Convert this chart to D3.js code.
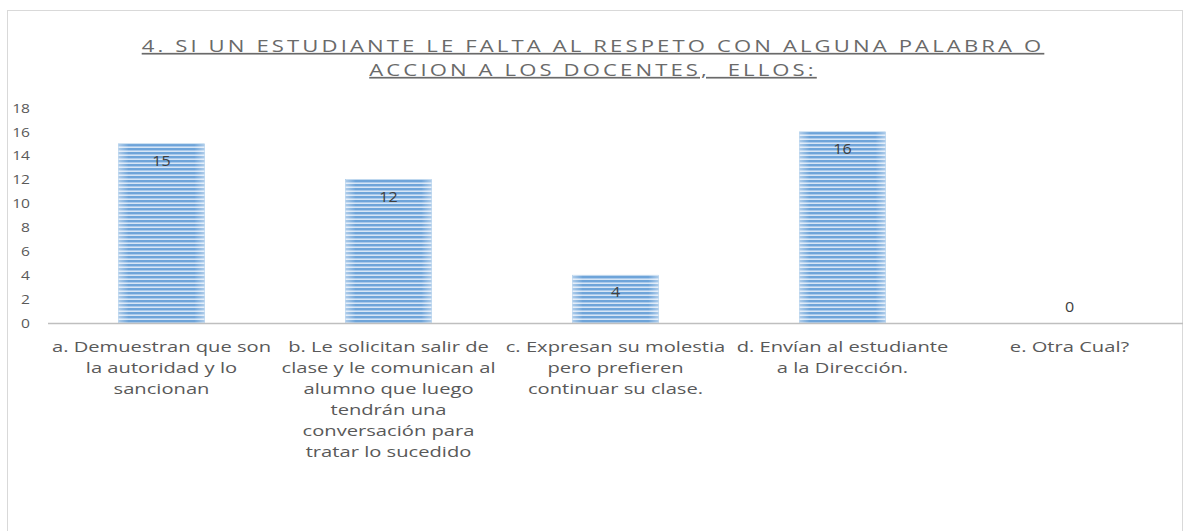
<!DOCTYPE html>
<html>
<head>
<meta charset="utf-8">
<script src="https://cdn.jsdelivr.net/npm/d3@7"></script>
<style>
  body { margin: 0; background: #fff; }
  svg { display: block; font-family: "Open Sans", sans-serif; }
</style>
</head>
<body>
<svg id="chart"></svg>
<script>
// chart data
const categories = [
  "a. Demuestran que son\nla autoridad y lo\nsancionan",
  "b. Le solicitan salir de\nclase y le comunican al\nalumno que luego\ntendrán una\nconversación para\ntratar lo sucedido",
  "c. Expresan su molestia\npero prefieren\ncontinuar su clase.",
  "d. Envían al estudiante\na la Dirección.",
  "e. Otra Cual?"
];
const values = [15, 12, 4, 16, 0];
const yTicks = [0, 2, 4, 6, 8, 10, 12, 14, 16, 18];
const titleLines = [
  "4. SI UN ESTUDIANTE LE FALTA AL RESPETO CON ALGUNA PALABRA O",
  "ACCION A LOS DOCENTES,  ELLOS:"
];

const width = 1184, height = 531;

const svg = d3.select("#chart")
              .attr("width", width)
              .attr("height", height);

// striped fill like the excel bars
const defs = svg.append("defs");
const pat = defs.append("pattern")
  .attr("id", "stripes")
  .attr("patternUnits", "userSpaceOnUse")
  .attr("width", 8).attr("height", 4);
pat.append("rect").attr("width", 8).attr("height", 4).attr("fill", "#a9c9eb");
pat.append("rect").attr("y", 0).attr("width", 8).attr("height", 2).attr("fill", "#6ea4d9");
pat.append("rect").attr("y", 3).attr("width", 8).attr("height", 1).attr("fill", "#d6e5f5");

// soft lighter edges on each bar
const grad = defs.append("linearGradient")
  .attr("id", "edges")
  .attr("x1", 0).attr("x2", 1).attr("y1", 0).attr("y2", 0);
grad.append("stop").attr("offset", "0%").attr("stop-color", "#fff").attr("stop-opacity", 0.45);
grad.append("stop").attr("offset", "12%").attr("stop-color", "#fff").attr("stop-opacity", 0);
grad.append("stop").attr("offset", "88%").attr("stop-color", "#fff").attr("stop-opacity", 0);
grad.append("stop").attr("offset", "100%").attr("stop-color", "#fff").attr("stop-opacity", 0.45);

// chart border
svg.append("rect")
   .attr("x", 7.5).attr("y", 10.5)
   .attr("width", 1175).attr("height", 540)
   .attr("fill", "none")
   .attr("stroke", "#d9d9d9");

const x = d3.scaleBand()
            .domain(d3.range(categories.length))
            .range([48, 1183])
            .paddingInner(0.62)
            .paddingOuter(0.31);

const y = d3.scaleLinear()
            .domain([0, 18])
            .range([323, 108]);

// title
titleLines.forEach((t, i) => {
  svg.append("text")
     .attr("transform", `translate(593,${52 + i * 24}) scale(1.3,1)`)
     .attr("text-anchor", "middle")
     .attr("xml:space", "preserve")
     .style("font-size", "17px")
     .style("letter-spacing", "2.4px")
     .style("fill", "#6a6a6a")
     .style("text-decoration", "underline")
     .text(t);
});

// y axis labels (no line)
const yAxis = svg.append("g")
  .attr("transform", "translate(30,0)")
  .call(d3.axisLeft(y).tickValues(yTicks).tickSize(0).tickPadding(0));
yAxis.select(".domain").remove();
yAxis.selectAll("text")
     .attr("x", 0)
     .attr("transform", "scale(1.2,1)")
     .style("font-family", "Open Sans, sans-serif")
     .style("font-size", "13px")
     .style("fill", "#595959");

// bars
const bars = svg.append("g").selectAll("g")
   .data(values)
   .enter()
   .append("g");
bars.append("rect")
   .attr("x", (d, i) => x(i))
   .attr("y", d => y(d))
   .attr("width", x.bandwidth())
   .attr("height", d => y(0) - y(d))
   .attr("fill", "url(#stripes)")
   .attr("stroke", "#9dc3e6")
   .attr("stroke-width", 0.6);
bars.append("rect")
   .attr("x", (d, i) => x(i))
   .attr("y", d => y(d))
   .attr("width", x.bandwidth())
   .attr("height", d => y(0) - y(d))
   .attr("fill", "url(#edges)");

// x axis line
svg.append("line")
   .attr("x1", 48).attr("x2", 1183)
   .attr("y1", y(0) + 0.5).attr("y2", y(0) + 0.5)
   .attr("stroke", "#bfbfbf")
   .attr("stroke-width", 1.5);

// value labels
svg.append("g").selectAll("text")
   .data(values)
   .enter()
   .append("text")
   .attr("transform", (d, i) => {
     const cx = x(i) + x.bandwidth() / 2;
     const cy = d > 0 ? y(d) + 22 : y(0) - 11;
     return `translate(${cx},${cy}) scale(1.15,1)`;
   })
   .attr("text-anchor", "middle")
   .style("font-size", "14px")
   .style("fill", "#404040")
   .text(d => d);

// category labels, stretched wide like the original rendering
categories.forEach((c, i) => {
  const t = svg.append("text")
    .attr("transform", `translate(${x(i) + x.bandwidth() / 2},352) scale(1.39,1)`)
    .attr("text-anchor", "middle")
    .style("font-size", "14.5px")
    .style("fill", "#595959");
  c.split("\n").forEach((line, j) => {
    t.append("tspan")
     .attr("x", 0)
     .attr("y", j * 21)
     .text(line);
  });
});
</script>
</body>
</html>
